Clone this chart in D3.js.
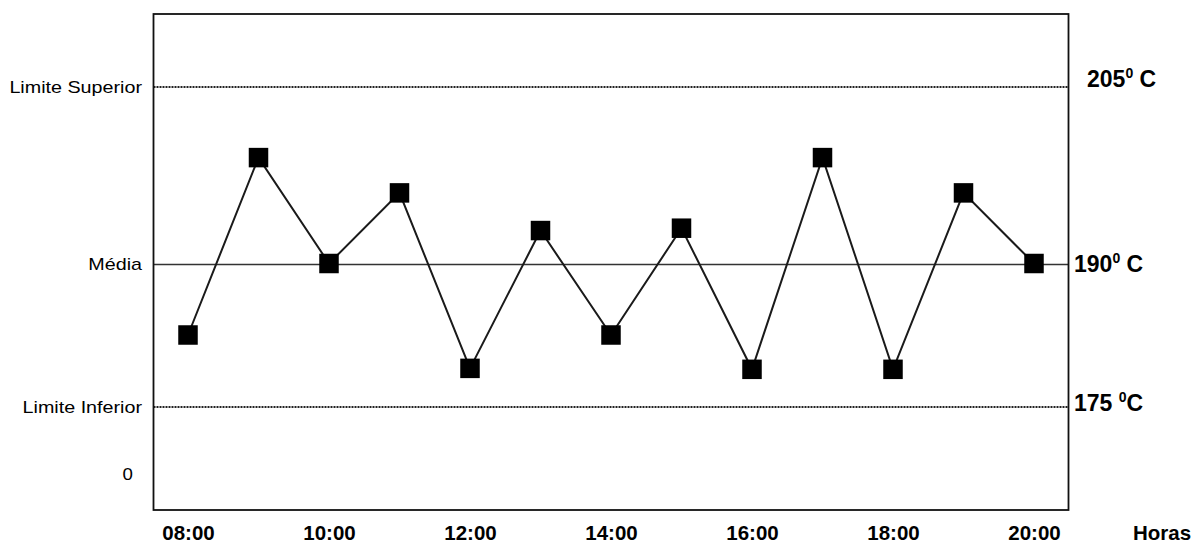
<!DOCTYPE html>
<html>
<head>
<meta charset="utf-8">
<script src="https://cdn.jsdelivr.net/npm/d3@7"></script>
<style>
  html, body { margin: 0; padding: 0; background: #fff; }
  svg { display: block; }
  text { font-family: "Liberation Sans", Arial, sans-serif; fill: #000; }
</style>
</head>
<body>
<svg id="chart" width="1193" height="543"></svg>
<script>
// ---- data ----
const hours = ["08:00","09:00","10:00","11:00","12:00","13:00","14:00","15:00","16:00","17:00","18:00","19:00","20:00"];
const temps = [182.5, 199, 190, 196, 179, 192.8, 182.5, 193, 178.9, 199, 178.9, 196, 190];
const tickLabels = ["08:00","10:00","12:00","14:00","16:00","18:00","20:00"];
const refNames = ["Limite Superior", "Média", "Limite Inferior"];
const refValues = [205, 190, 175];
const refTemps = [["205","0"," C"], ["190","0"," C"], ["175 ","0","C"]];
const zeroLabel = "0";
const xTitle = "Horas";

// ---- layout ----
const svg = d3.select("#chart");
const L = 153.5, R = 1068.5, T = 14, B = 510;

const x = d3.scalePoint().domain(hours).range([188, 1034]).padding(0);
// schematic (piecewise) temperature axis
const y = d3.scaleLinear().domain([0, 175, 190, 205]).range([473, 406.5, 263.5, 87]);

// reference lines
refValues.forEach((v, i) => {
  const yy = Math.round(y(v));
  const g = svg.append("line")
    .attr("x1", L).attr("x2", R)
    .attr("y1", yy).attr("y2", yy);
  if (i === 1) g.attr("stroke", "#333").attr("stroke-width", 1.5).attr("y1", yy + 0.5).attr("y2", yy + 0.5);
  else g.attr("stroke", "#222").attr("stroke-width", 2).attr("stroke-dasharray", "2,1");
});

// frame
svg.append("rect")
  .attr("x", L).attr("y", T).attr("width", R - L).attr("height", B - T)
  .attr("fill", "none").attr("stroke", "#111").attr("stroke-width", 1.8);

// data line
const line = d3.line().x((d, i) => x(hours[i])).y(d => y(d));
svg.append("path").datum(temps)
  .attr("d", line).attr("fill", "none")
  .attr("stroke", "#1a1a1a").attr("stroke-width", 2);

// markers
const S = 19.5;
svg.selectAll("rect.pt").data(temps).enter().append("rect")
  .attr("class", "pt")
  .attr("x", (d, i) => x(hours[i]) - S / 2)
  .attr("y", d => y(d) - S / 2)
  .attr("width", S).attr("height", S)
  .attr("fill", "#000");

// left labels (slightly stretched horizontally like the reference)
const leftG = svg.append("g");
refNames.forEach((n, i) => {
  leftG.append("text")
    .attr("transform", `translate(142,${y(refValues[i]) + 6}) scale(1.16,1)`)
    .attr("text-anchor", "end")
    .attr("font-size", 17)
    .attr("fill", "#111")
    .text(n);
});
leftG.append("text")
  .attr("transform", `translate(133,${y(0) + 7}) scale(1.1,1)`)
  .attr("text-anchor", "end")
  .attr("font-size", 17)
  .attr("fill", "#111")
  .text(zeroLabel);

// right labels
const rightBase = [87, y(190) + 8.5, y(175) + 4];
const rightX = [1087, 1074, 1074];
refTemps.forEach((parts, i) => {
  const t = svg.append("text")
    .attr("x", rightX[i]).attr("y", rightBase[i])
    .attr("font-size", 23).attr("font-weight", "bold");
  t.append("tspan").text(parts[0]);
  t.append("tspan").attr("font-size", 14).attr("dy", -9).text(parts[1]);
  t.append("tspan").attr("dy", 9).text(parts[2]);
});

// x axis labels
const xAxis = d3.axisBottom(x).tickValues(tickLabels).tickSize(0).tickPadding(0);
const ax = svg.append("g").attr("transform", "translate(0,524)").call(xAxis);
ax.select(".domain").remove();
ax.selectAll("text")
  .attr("font-family", "'Liberation Sans', Arial, sans-serif")
  .attr("font-size", 20.5).attr("font-weight", "bold").attr("fill", "#000")
  .attr("dy", "0.8em");

svg.append("text")
  .attr("x", 1162).attr("y", 540)
  .attr("text-anchor", "middle")
  .attr("font-size", 20.5).attr("font-weight", "bold")
  .text(xTitle);
</script>
</body>
</html>
